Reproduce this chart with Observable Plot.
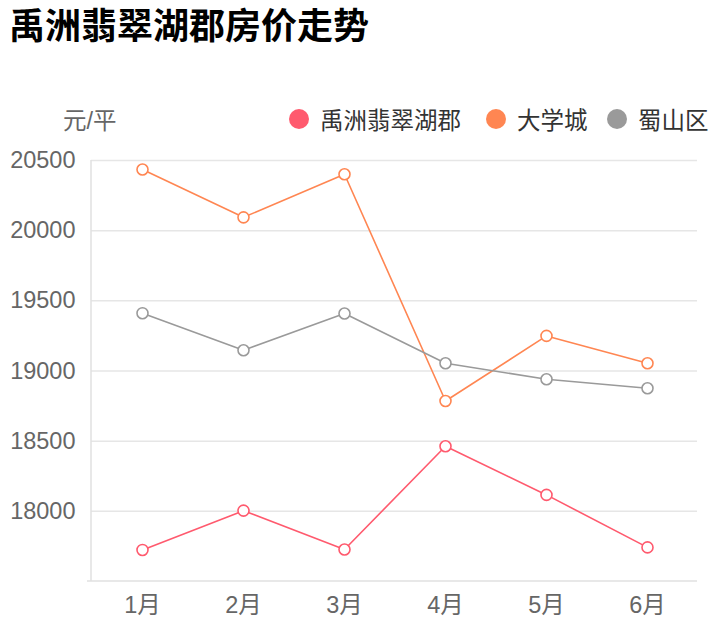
<!DOCTYPE html>
<html>
<head>
<meta charset="utf-8">
<script src="https://cdn.jsdelivr.net/npm/d3@7"></script>
<script src="https://cdn.jsdelivr.net/npm/@observablehq/plot@0.6"></script>
<style>
  body { margin: 0; background: #fff; font-family: "Liberation Sans", "Noto Sans CJK SC", sans-serif; }
  #wrap { width: 718px; }
  #title { height: 96px; line-height: 54px; padding-left: 9px; font-size: 36px; font-weight: bold; color: #000; }
  #legend { position: relative; height: 40px; font-size: 23.5px; color: #333; }
  #legend .unit { position: absolute; left: 63px; top: 6px; color: #666; }
  #legend .item { position: absolute; top: 6px; display: flex; align-items: center; }
  #legend .dot { width: 20px; height: 20px; border-radius: 50%; margin-right: 11px; }
</style>
</head>
<body>
<div id="wrap">
  <div id="title">禹洲翡翠湖郡房价走势</div>
  <div id="legend"><span class="unit">元/平</span></div>
  <div id="chart"></div>
</div>
<script>
const months = ["1月", "2月", "3月", "4月", "5月", "6月"];
const seriesNames = ["禹洲翡翠湖郡", "大学城", "蜀山区"];
const yuzhou = [17725, 18005, 17728, 18464, 18117, 17743];
const daxuecheng = [20436, 20095, 20402, 18786, 19250, 19055];
const shushan = [19412, 19148, 19410, 19055, 18941, 18877];
const colors = ["#ff5a6e", "#ff8652", "#9a9a9a"];
const yTicks = [18000, 18500, 19000, 19500, 20000, 20500];
const yDomain = [17500, 20500];
const legendX = [289, 486, 607];

const seriesValues = [yuzhou, daxuecheng, shushan];
const data = [];
seriesNames.forEach((s, i) => months.forEach((m, j) => data.push({series: s, month: m, value: seriesValues[i][j]})));

// HTML legend
const legend = document.getElementById("legend");
seriesNames.forEach((s, i) => {
  const item = document.createElement("span");
  item.className = "item";
  item.style.left = legendX[i] + "px";
  const dot = document.createElement("span");
  dot.className = "dot";
  dot.style.background = colors[i];
  item.appendChild(dot);
  item.appendChild(document.createTextNode(s));
  legend.appendChild(item);
});

const axisLines = (index, scales, values, dimensions) => {
  const {width, height, marginLeft, marginRight, marginTop, marginBottom} = dimensions;
  const g = d3.create("svg:g").attr("stroke", "#e0e0e0").attr("stroke-width", 1.5);
  g.append("line").attr("x1", marginLeft).attr("x2", marginLeft).attr("y1", marginTop).attr("y2", height - marginBottom);
  g.append("line").attr("x1", marginLeft - 4).attr("x2", width - marginRight).attr("y1", height - marginBottom).attr("y2", height - marginBottom);
  return g.node();
};

const chart = Plot.plot({
  width: 718,
  height: 504,
  marginTop: 24,
  marginBottom: 59,
  marginLeft: 91,
  marginRight: 21,
  style: {fontSize: "23.5px", color: "#666", fontFamily: "'Liberation Sans', 'Noto Sans CJK SC', sans-serif", background: "white"},
  x: {type: "point", domain: months, padding: 0.5, label: null, tickSize: 0, tickPadding: 15},
  y: {domain: yDomain, ticks: yTicks, tickFormat: "d", label: null, tickSize: 0, tickPadding: 16},
  color: {domain: seriesNames, range: colors},
  marks: [
    Plot.ruleY(yTicks, {stroke: "#e6e6e6", strokeWidth: 1.5}),
    axisLines,
    Plot.line(data, {x: "month", y: "value", z: "series", stroke: "series", strokeWidth: 1.6}),
    Plot.dot(data, {x: "month", y: "value", stroke: "series", fill: "white", r: 5.5, strokeWidth: 1.6})
  ]
});
document.getElementById("chart").appendChild(chart);
</script>
</body>
</html>
